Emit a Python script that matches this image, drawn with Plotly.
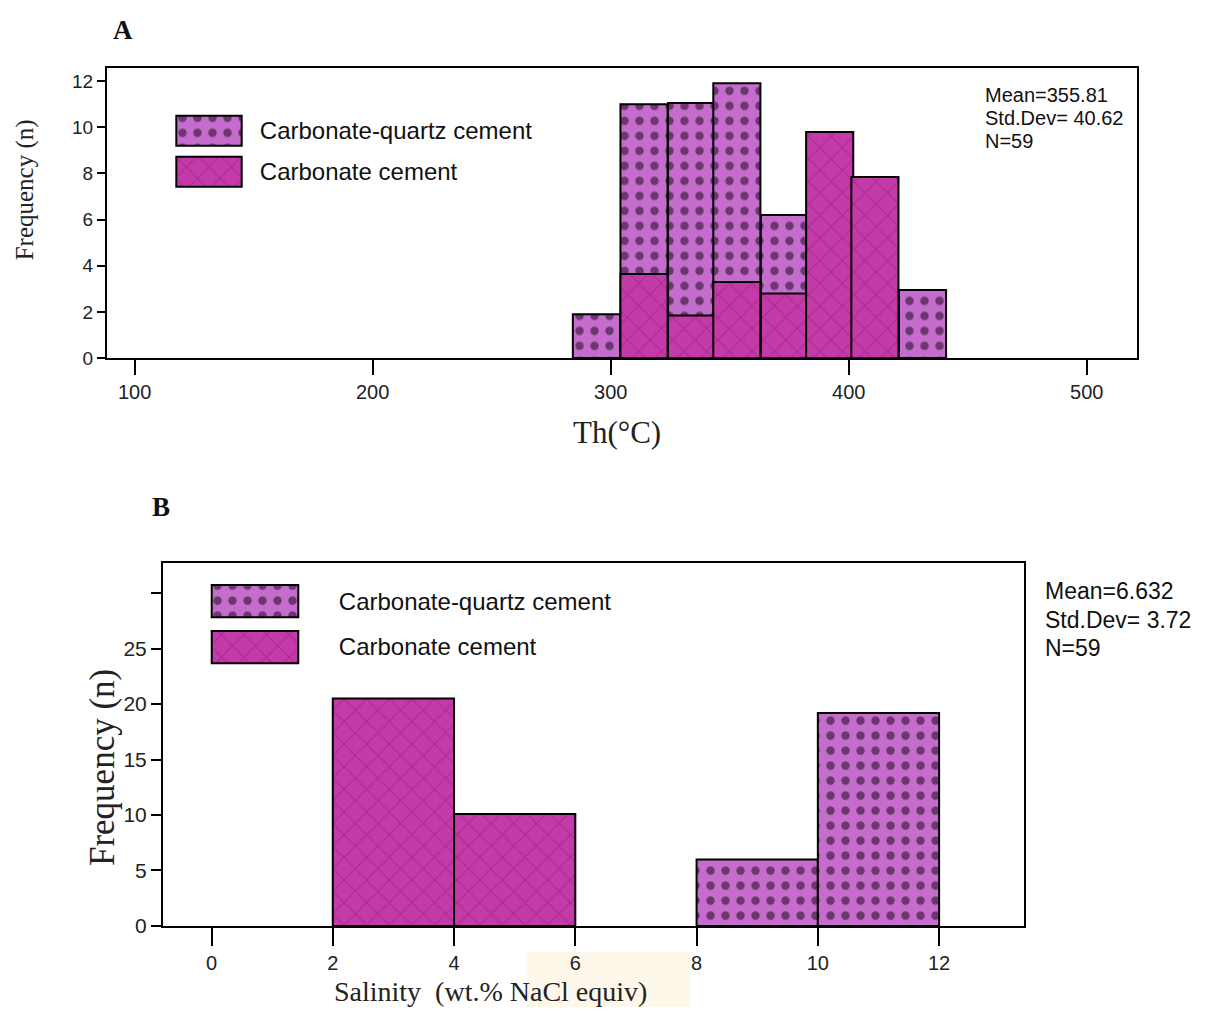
import plotly.graph_objects as go

# ---------------- data ----------------
series_names = ["Carbonate-quartz cement", "Carbonate cement"]

# Panel A: homogenization temperature Th (°C)
th_bin_centers = [294, 314, 334, 353, 373, 392, 411, 431]
th_bin_width = 19.8
th_cq_freq = [1.9, 11.0, 11.05, 11.9, 6.2, 0, 0, 2.95]      # total bar height (carbonate-quartz)
th_carb_freq = [0, 3.65, 1.85, 3.3, 2.8, 9.8, 7.85, 0]       # carbonate cement
th_xticks = [100, 200, 300, 400, 500]
th_yticks = [0, 2, 4, 6, 8, 10, 12]
stats_A = ["Mean=355.81", "Std.Dev= 40.62", "N=59"]

# Panel B: salinity (wt.% NaCl equiv)
sal_carb_centers = [3, 5]
sal_carb_freq = [20.5, 10.1]
sal_cq_centers = [9, 11]
sal_cq_freq = [6.0, 19.2]
sal_bin_width = 2
sal_xticks = [0, 2, 4, 6, 8, 10, 12]
sal_yticks = [0, 5, 10, 15, 20, 25, 30]
sal_yticklabels = ["0", "5", "10", "15", "20", "25", ""]
stats_B = ["Mean=6.632", "Std.Dev= 3.72", "N=59"]

legend_key_len = [1]   # full-length swatch in the legend key boxes

# ---------------- layout helpers ----------------
PAGE_W, PAGE_H = 1228, 1012
OFF = 8                       # default body margin of the html page
W, H = PAGE_W - 2 * OFF, PAGE_H - OFF
YS, YA = 0.9895, -0.3         # measured vertical rendering correction

CQ_BG = "#c56dcd"
CARB_BG = "#c43aa8"
SANS = "Liberation Sans, Arial, sans-serif"
NARROW = "Liberation Sans Narrow, Arial Narrow, Liberation Sans, sans-serif"
SERIF = "Liberation Serif, Times New Roman, serif"


def sx(x):
    return (x - OFF) / W


def sy(y):
    yi = (y - YA) / YS
    return 1 - (yi - OFF) / H


cq_marker = dict(
    color=CQ_BG,
    line=dict(color="black", width=2),
    pattern=dict(shape=".", fgcolor="#14000f", bgcolor=CQ_BG, size=15, solidity=0.25),
)
carb_marker = dict(
    color=CARB_BG,
    line=dict(color="black", width=2),
    pattern=dict(shape="x", fgcolor="#8a1c74", bgcolor=CARB_BG, size=16, solidity=0.12),
)
markers = [cq_marker, carb_marker]

fig = go.Figure()

# Panel A
fig.add_trace(go.Bar(x=th_bin_centers, y=th_cq_freq, width=th_bin_width, name=series_names[0],
                     marker=cq_marker, xaxis="x", yaxis="y"))
fig.add_trace(go.Bar(x=th_bin_centers, y=th_carb_freq, width=th_bin_width, name=series_names[1],
                     marker=carb_marker, xaxis="x", yaxis="y"))
# Panel B
fig.add_trace(go.Bar(x=sal_cq_centers, y=sal_cq_freq, width=sal_bin_width, name=series_names[0],
                     marker=cq_marker, xaxis="x2", yaxis="y2"))
fig.add_trace(go.Bar(x=sal_carb_centers, y=sal_carb_freq, width=sal_bin_width, name=series_names[1],
                     marker=carb_marker, xaxis="x2", yaxis="y2"))

# Legend keys (large patterned swatches, drawn as a small key chart per panel)
for xa, ya, bw in (("x3", "y3", 0.73), ("x4", "y4", 0.70)):
    for name, mk in zip(series_names, markers):
        fig.add_trace(go.Bar(x=legend_key_len, y=[name], orientation="h", width=bw, name=name,
                             marker=mk, xaxis=xa, yaxis=ya, hoverinfo="name"))

axis_common = dict(showline=True, linecolor="black", linewidth=2, mirror=True, showgrid=False,
                   zeroline=False, ticks="outside", tickcolor="black", tickwidth=2)
key_x = dict(visible=False, range=[-0.02, 1.02], fixedrange=True)
key_y = dict(type="category", categoryorder="array", categoryarray=series_names[::-1],
             range=[-0.5, 1.5], side="right", showline=False, showgrid=False, zeroline=False,
             ticks="outside", tickcolor="rgba(0,0,0,0)", fixedrange=True)

fig.update_layout(
    width=W, height=H,
    margin=dict(l=0, r=0, t=0, b=0),
    paper_bgcolor="white", plot_bgcolor="rgba(0,0,0,0)",
    barmode="overlay",
    showlegend=False,
    xaxis=dict(axis_common, domain=[sx(107), sx(1137)], range=[88.4, 521.1], anchor="y",
               tickvals=th_xticks, ticklen=15, tickfont=dict(family=SANS, size=20, color="#222")),
    yaxis=dict(axis_common, domain=[sy(358), sy(68)], range=[0, 12.55], anchor="x",
               tickvals=th_yticks, ticklen=8, tickfont=dict(family=SANS, size=19, color="#222")),
    xaxis2=dict(axis_common, domain=[sx(163), sx(1024)], range=[-0.8, 13.4], anchor="y2",
                tickvals=sal_xticks, ticklen=18, tickfont=dict(family=SANS, size=20, color="#222")),
    yaxis2=dict(axis_common, domain=[sy(926), sy(563)], range=[0, 32.7], anchor="x2",
                tickvals=sal_yticks, ticktext=sal_yticklabels, ticklen=10,
                tickfont=dict(family=NARROW, size=21, color="#222")),
    xaxis3=dict(key_x, domain=[sx(175), sx(243)], anchor="y3"),
    yaxis3=dict(key_y, domain=[sy(192), sy(110)], anchor="x3", ticklen=11,
                tickfont=dict(family=SANS, size=24, color="#111")),
    xaxis4=dict(key_x, domain=[sx(210), sx(300)], anchor="y4"),
    yaxis4=dict(key_y, domain=[sy(670), sy(578)], anchor="x4", ticklen=33,
                tickfont=dict(family=SANS, size=24, color="#111")),
)

annotations = []
for i, t in enumerate(stats_A):
    annotations.append(dict(text=t, x=sx(983), y=sy(95 + 23 * i), xref="paper", yref="paper",
                            xanchor="left", yanchor="middle", showarrow=False,
                            font=dict(family=SANS, size=20, color="#111")))
for i, t in enumerate(stats_B):
    annotations.append(dict(text=t, x=sx(1043), y=sy(591 + 28.5 * i), xref="paper", yref="paper",
                            xanchor="left", yanchor="middle", showarrow=False,
                            font=dict(family=SANS, size=23, color="#111")))
# panel letters
annotations.append(dict(text="<b>A</b>", x=sx(123), y=sy(30), xref="paper", yref="paper",
                        xanchor="center", yanchor="middle", showarrow=False,
                        font=dict(family=SERIF, size=27, color="#111")))
annotations.append(dict(text="<b>B</b>", x=sx(161), y=sy(507), xref="paper", yref="paper",
                        xanchor="center", yanchor="middle", showarrow=False,
                        font=dict(family=SERIF, size=27, color="#111")))
# axis titles
annotations.append(dict(text="Th(°C)", x=sx(617), y=sy(432), xref="paper", yref="paper",
                        xanchor="center", yanchor="middle", showarrow=False,
                        font=dict(family=SERIF, size=31, color="#222")))
annotations.append(dict(text="Frequency (n)", x=sx(25), y=sy(190), xref="paper", yref="paper",
                        xanchor="center", yanchor="middle", showarrow=False, textangle=-90,
                        font=dict(family=SERIF, size=25, color="#222")))
annotations.append(dict(text="Salinity  (wt.% NaCl equiv)", x=sx(490), y=sy(992), xref="paper", yref="paper",
                        xanchor="center", yanchor="middle", showarrow=False,
                        font=dict(family=SERIF, size=28, color="#222")))
annotations.append(dict(text="Frequency (n)", x=sx(102), y=sy(768), xref="paper", yref="paper",
                        xanchor="center", yanchor="middle", showarrow=False, textangle=-90,
                        font=dict(family=SERIF, size=35, color="#222")))
fig.update_layout(annotations=annotations)

# faint cream patch present in the reference scan
fig.add_shape(type="rect", xref="paper", yref="paper", x0=sx(527), x1=sx(690), y0=sy(1007), y1=sy(952),
              fillcolor="#fdf8ea", line=dict(width=0), layer="below")

fig.write_html("out.html")
